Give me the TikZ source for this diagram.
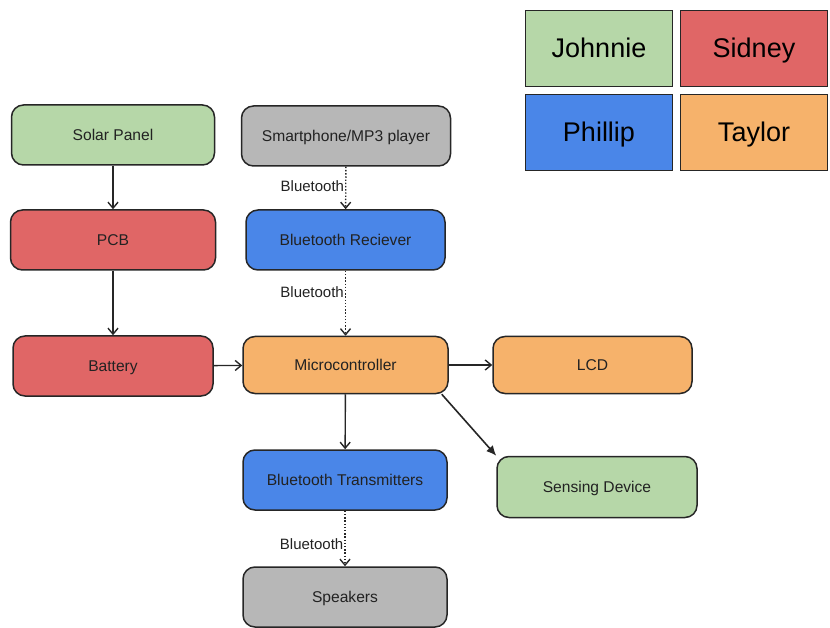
\documentclass[tikz,border=0pt]{standalone}
\usepackage{fontspec}
\setmainfont{Liberation Sans}
\usetikzlibrary{arrows.meta}
\definecolor{cgreen}{HTML}{B6D7A8}
\definecolor{cred}{HTML}{E06666}
\definecolor{cblue}{HTML}{4A86E8}
\definecolor{corange}{HTML}{F6B26B}
\definecolor{cgray}{HTML}{B7B7B7}
\definecolor{ctext}{HTML}{222222}
\tikzset{
  blk/.style={draw=black!85, line width=1.5pt, rounded corners=12pt, minimum width=203pt, minimum height=60pt, inner sep=0pt, text height=11pt, text depth=0pt, font=\fontsize{15.6}{17}\selectfont, text=ctext},
  legend/.style={draw=black!85, line width=1.3pt, minimum width=147pt, minimum height=76pt, inner sep=0pt, text height=19pt, text depth=0pt, font=\fontsize{27}{30}\selectfont, text=black},
  solid arrow/.style={line width=1.4pt, draw=black!85, -{Straight Barb[length=6pt,width=10pt,line width=1.4pt]}},
  dot arrow/.style={line width=1.4pt, draw=black!85, dash pattern=on 1.4pt off 1.8pt, -{Straight Barb[length=6pt,width=10pt,line width=1.4pt,sep=0pt]}},
  bt/.style={font=\fontsize{15}{17}\selectfont, text=ctext, anchor=east, inner sep=1pt}
}
\begin{document}
\begin{tikzpicture}[x=1pt,y=-1pt]
\useasboundingbox (0,0) rectangle (830,628);
% legend
\node[legend, fill=cgreen] (lj) at (599,48.5) {Johnnie};
\node[legend, fill=cred] (ls) at (754,48.5) {Sidney};
\node[legend, fill=cblue] (lp) at (599,132.5) {Phillip};
\node[legend, fill=corange] (lt) at (754,132.5) {Taylor};
% blocks
\node[blk, fill=cgreen] (solar) at (113,135) {Solar Panel};
\node[blk, fill=cgray, minimum width=209pt] (phone) at (346,136) {Smartphone/MP3 player};
\node[blk, fill=cred, minimum width=205pt] (pcb) at (113,240) {PCB};
\node[blk, fill=cblue, minimum width=199pt] (btr) at (345.5,240) {Bluetooth Reciever};
\node[blk, fill=cred, minimum width=200pt] (bat) at (113,366) {Battery};
\node[blk, fill=corange, minimum width=205pt, minimum height=57pt] (mcu) at (345.5,365) {Microcontroller};
\node[blk, fill=corange, minimum width=199pt, minimum height=57pt] (lcd) at (592.5,365) {LCD};
\node[blk, fill=cblue, minimum width=204pt] (btt) at (345,480) {Bluetooth Transmitters};
\node[blk, fill=cgreen, minimum width=200pt, minimum height=61pt] (sense) at (597,487) {Sensing Device};
\node[blk, fill=cgray, minimum width=204pt] (spk) at (345,597) {Speakers};
% connectors
\draw[solid arrow] (solar) -- (pcb);
\draw[solid arrow] (pcb) -- (bat);
\draw[dot arrow] (phone) -- node[bt, pos=0.45] {Bluetooth} (btr);
\draw[dot arrow] (btr) -- node[bt, pos=0.33] {Bluetooth} (mcu);
\draw[solid arrow] (bat) -- (mcu);
\draw[solid arrow] (mcu) -- (lcd);
\draw[solid arrow] (mcu) -- (btt);
\draw[line width=1.6pt, draw=black!85, -{Latex[length=10pt,width=9pt]}] (mcu.south east) ++(-7,0) coordinate (d0) -- (sense.north west);
\draw[dot arrow] (btt) -- node[bt, pos=0.6] {Bluetooth} (spk);
\end{tikzpicture}
\end{document}
